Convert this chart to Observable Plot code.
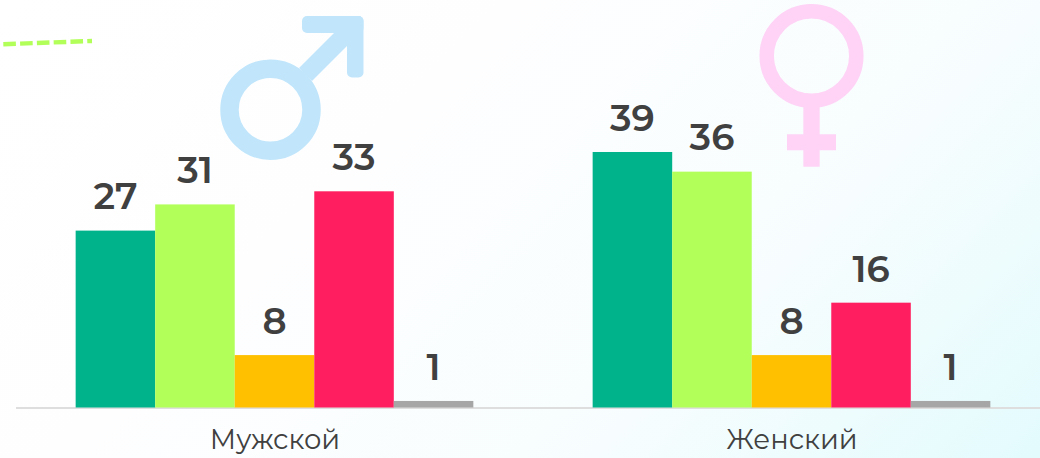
<!DOCTYPE html>
<html lang="ru">
<head>
<meta charset="utf-8">
<script src="https://cdn.jsdelivr.net/npm/d3@7"></script>
<script src="https://cdn.jsdelivr.net/npm/@observablehq/plot@0.6"></script>
<style>
html,body{margin:0;padding:0;width:1040px;height:458px;overflow:hidden}
body{background:linear-gradient(135deg,#ffffff 0%,#fefeff 35%,#f7fdfe 70%,#e3fbfd 100%);position:relative}
#decor{position:absolute;left:0;top:0}
#chart{position:absolute;left:0;top:0}
</style>
</head>
<body>
<svg id="decor" width="1040" height="458" fill="none">
  <path d="M3.3 44.2L92 41" stroke="#b2ff59" stroke-width="4.4" stroke-dasharray="12.6 4.2"/>
  <g fill="#c1e6fb">
    <circle cx="270.5" cy="109.7" r="41" stroke="#c1e6fb" stroke-width="18.5" fill="none"/>
    <path d="M305.5 74.5L352 28" stroke="#c1e6fb" stroke-width="18.4" fill="none"/>
    <rect x="302" y="16" width="61.5" height="17" rx="5"/>
    <rect x="347" y="16" width="16.5" height="61.5" rx="5"/>
  </g>
  <g stroke="#fed3f6" fill="none">
    <circle cx="811.5" cy="56" r="44.8" stroke-width="14.5"/>
    <path d="M811.5 106V166.7" stroke-width="16.3"/>
    <path d="M787 142.3H836" stroke-width="16"/>
  </g>
</svg>
<div id="chart"></div>
<script>
const genders = ["Мужской", "Женский"];
const categories = ["c1", "c2", "c3", "c4", "c5"];
const male = [27, 31, 8, 33, 1];
const female = [39, 36, 8, 16, 1];
const colors = ["#00b38a", "#b2ff59", "#ffc000", "#ff1f60", "#a6a6a6"];

const rows = [
  ...categories.map((c, i) => ({gender: genders[0], category: c, value: male[i]})),
  ...categories.map((c, i) => ({gender: genders[1], category: c, value: female[i]}))
];

const font = "Montserrat, Inter, 'Open Sans', sans-serif";
const chart = Plot.plot({
  width: 1040,
  height: 458,
  marginTop: 0,
  marginBottom: 50.5,
  marginLeft: 16,
  marginRight: -10,
  style: {background: "transparent", fontFamily: font},
  fx: {domain: genders, padding: 0, round: false, label: null},
  x: {domain: categories, paddingInner: 0, paddingOuter: 0.75, round: false, axis: null},
  y: {domain: [0, 62.2], axis: null},
  color: {domain: categories, range: colors},
  marks: [
    Plot.ruleY([0], {stroke: "#dedede", strokeWidth: 2}),
    Plot.barY(rows, {fx: "gender", x: "category", y: "value", fill: "category"}),
    Plot.text(rows, {
      fx: "gender", x: "category", y: "value", text: d => String(d.value),
      dx: -0.5, dy: -33.5, fontSize: 37, fontWeight: 600, fill: "#404040"
    }),
    Plot.axisFx({
      anchor: "bottom", tickSize: 0, tickPadding: 22, fontSize: 27.4,
      fontWeight: 400, color: "#404040", label: null
    })
  ]
});
document.getElementById("chart").append(chart);
</script>
</body>
</html>
